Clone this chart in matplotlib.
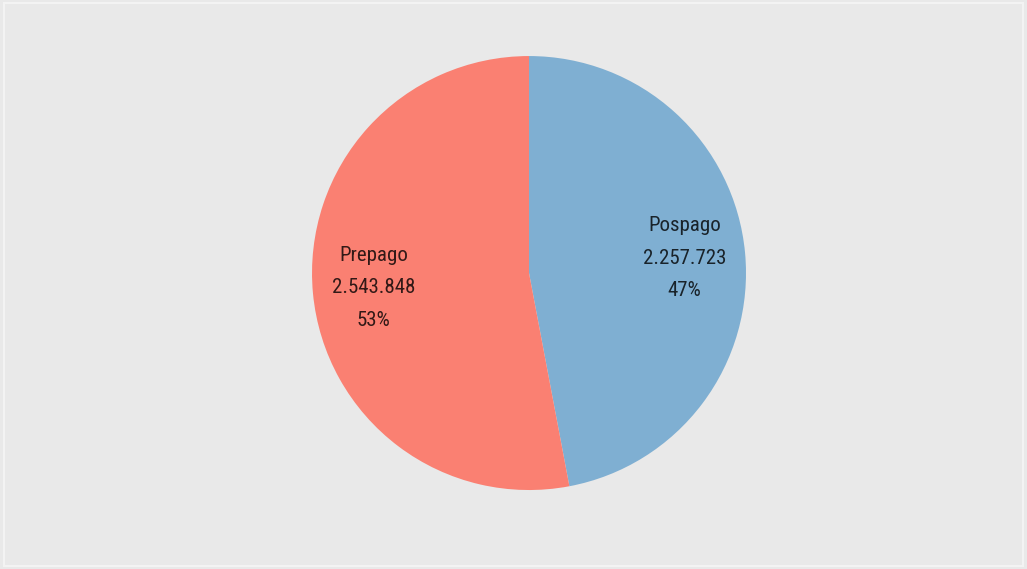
import matplotlib
matplotlib.use("Agg")
import matplotlib.pyplot as plt
from matplotlib.patches import Rectangle

# data
labels = ["Pospago", "Prepago"]
values = [2257723, 2543848]
colors = ["#7fafd2", "#fa8072"]

plt.rcParams["font.family"] = ["Roboto Condensed", "DejaVu Sans"]
plt.rcParams["font.stretch"] = "condensed"

fig = plt.figure(figsize=(10.27, 5.69), dpi=100)
fig.patch.set_facecolor("#e9e9e9")
fig.patches.append(Rectangle((0.004, 0.006), 0.992, 0.988, transform=fig.transFigure,
                             fill=False, ec="#f3f3f3", lw=1.5))

ax = fig.add_axes([0.3038, 0.1388, 0.4226, 0.7627])
total = sum(values)


def fmt(v):
    return f"{v:,}".replace(",", ".")


texts = [f"{l}\n{fmt(v)}\n{round(v / total * 100)}%" for l, v in zip(labels, values)]

wedges, txts = ax.pie(values, colors=colors, startangle=90, counterclock=False,
                      labels=texts, labeldistance=0.72,
                      wedgeprops=dict(lw=0))
for t in txts:
    t.set_ha("center")
    t.set_va("center")
    t.set_fontsize(15)
    t.set_linespacing(1.9)
    t.set_color("black")
    t.set_alpha(0.8)
ax.set_xlim(-1, 1)
ax.set_ylim(-1, 1)
ax.set_aspect("equal")

fig.savefig("out.png", dpi=100, facecolor=fig.get_facecolor())
